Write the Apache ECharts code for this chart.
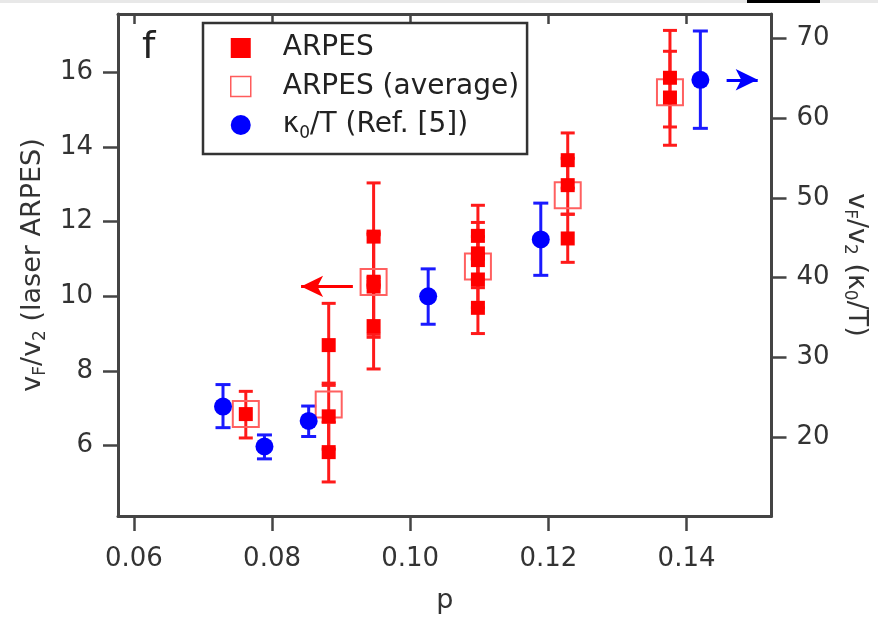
<!DOCTYPE html>
<html><head><meta charset="utf-8">
<script src="https://cdn.jsdelivr.net/npm/echarts@6/dist/echarts.min.js"></script>
<style>html,body{margin:0;padding:0;background:#fff}#c{width:878px;height:619px}</style>
</head><body><div id="c"></div>
<script>
// ---- tick labels ----
const xTicks = [0.06, 0.08, 0.10, 0.12, 0.14];
const yLeftTicks = [6, 8, 10, 12, 14, 16];
const yRightTicks = [20, 30, 40, 50, 60, 70];

// ---- ARPES (individual points, left axis) ----
const arpesP  = [0.0762, 0.0882, 0.0882, 0.0882, 0.0947, 0.0947, 0.0947, 0.0947, 0.1098, 0.1098, 0.1098, 0.1098, 0.1098, 0.1228, 0.1228, 0.1228, 0.1376, 0.1376];
const arpesV  = [6.84, 8.69, 6.78, 5.82, 11.60, 10.39, 10.26, 9.20, 11.62, 11.15, 10.97, 10.45, 9.69, 13.65, 12.98, 11.55, 15.86, 15.33];
const arpesLo = [6.20, 7.67, 5.90, 5.02, 10.50, 8.98, 8.90, 8.05, 11.00, 10.23, 10.45, 9.69, 9.00, 12.90, 12.20, 10.91, 14.54, 14.05];
const arpesHi = [7.45, 9.81, 7.61, 6.62, 13.04, 11.70, 11.65, 10.30, 12.44, 11.98, 11.60, 11.15, 10.45, 14.38, 13.70, 12.20, 17.13, 16.57];

// ---- ARPES (average, left axis) ----
const avgP = [0.0762, 0.0882, 0.0947, 0.1098, 0.1228, 0.1376];
const avgV = [6.84, 7.10, 10.38, 10.80, 12.71, 15.47];

// ---- kappa0/T (Ref. [5], right axis) ----
const kP  = [0.0729, 0.0789, 0.0853, 0.1026, 0.1189, 0.1420];
const kV  = [23.84, 18.84, 22.04, 37.66, 44.79, 64.79];
const kLo = [21.20, 17.29, 20.09, 34.16, 40.29, 58.71];
const kHi = [26.60, 20.29, 23.91, 41.10, 49.34, 70.91];

// ---- arrows (data coordinates) ----
const redArrow  = [[0.0917, 10.265], [0.0842, 10.265]];
const blueArrow = [[0.1458, 64.8], [0.1503, 64.8]];

const FONT = 'DejaVu Sans';
const AX = '#444';
const TXT = '#333';
const RED = '#ff0000';
const BLUE = '#0000ff';

const nameRich = {
  m: {fontSize: 27, lineHeight: 32, verticalAlign: 'middle', fontFamily: FONT, color: TXT},
  s: {fontSize: 17, lineHeight: 12, verticalAlign: 'bottom', fontFamily: FONT, color: TXT}
};

function errBars(xs, lo, hi, color, yAxisIndex, cap) {
  return {
    type: 'custom', yAxisIndex: yAxisIndex, xAxisIndex: 0, z: 2, silent: true,
    data: xs.map((x, i) => [x, lo[i], hi[i]]),
    encode: {x: 0, y: [1, 2]},
    renderItem: function (params, api) {
      const x = api.value(0);
      const a = api.coord([x, api.value(1)]);
      const b = api.coord([x, api.value(2)]);
      const h = cap / 2;
      const style = {stroke: color, lineWidth: 3};
      return {type: 'group', children: [
        {type: 'line', shape: {x1: a[0], y1: a[1], x2: b[0], y2: b[1]}, style: style},
        {type: 'line', shape: {x1: a[0] - h, y1: a[1], x2: a[0] + h, y2: a[1]}, style: style},
        {type: 'line', shape: {x1: b[0] - h, y1: b[1], x2: b[0] + h, y2: b[1]}, style: style}
      ]};
    }
  };
}

function xAxisCommon() {
  return {
    type: 'value', min: 0.0577, max: 0.1523,
    axisLine: {show: true, onZero: false, lineStyle: {color: AX, width: 3}},
    splitLine: {show: false}
  };
}

const chart = echarts.init(document.getElementById('c'));
chart.setOption({
  animation: false,
  backgroundColor: '#fff',
  grid: {left: 118, right: 100, top: 14, bottom: 101},
  graphic: [
    {type: 'rect', shape: {x: 0, y: 0, width: 878, height: 3}, style: {fill: '#e8e8e8'}, z: 100},
    {type: 'rect', shape: {x: 747, y: 0, width: 73, height: 3}, style: {fill: '#000'}, z: 101},
    {type: 'text', left: 142, top: 29, style: {text: 'f', fontSize: 38, fontFamily: FONT, fill: '#222'}, z: 100}
  ],
  legend: {
    orient: 'vertical', left: 203, top: 23,
    padding: [11, 8, 12, 27], itemGap: 10.5, itemWidth: 20, itemHeight: 20,
    borderColor: '#333', borderWidth: 2.5, backgroundColor: '#fff',
    selectedMode: false,
    textStyle: {
      fontSize: 28, fontFamily: FONT, color: '#222', padding: [0, 0, 0, 27],
      rich: {
        m: {fontSize: 28, lineHeight: 34, verticalAlign: 'middle', fontFamily: FONT, color: '#222'},
        s: {fontSize: 17, lineHeight: 14, verticalAlign: 'bottom', fontFamily: FONT, color: '#222'}
      }
    },
    formatter: function (n) {
      if (n === 'kappa') return '{m|κ}{s|0}{m|/T (Ref. [5])}';
      return '{m|' + n + '}';
    },
    data: [
      {name: 'ARPES', icon: 'rect', itemStyle: {color: RED, opacity: 1}},
      {name: 'ARPES (average)', icon: 'rect', itemStyle: {color: '#fff', borderColor: '#ff5c5c', borderWidth: 1.5, opacity: 1}},
      {name: 'kappa', icon: 'circle', itemStyle: {color: BLUE, opacity: 1}}
    ]
  },
  xAxis: [
    Object.assign(xAxisCommon(), {
      position: 'bottom',
      axisTick: {show: true, customValues: xTicks, length: 15, lineStyle: {color: AX, width: 2.5}},
      axisLabel: {customValues: xTicks, formatter: v => v.toFixed(2), margin: 30, fontSize: 26, color: TXT, fontFamily: FONT},
      name: 'p', nameLocation: 'middle', nameGap: 71,
      nameTextStyle: {fontSize: 27, fontFamily: FONT, color: TXT}
    }),
    Object.assign(xAxisCommon(), {
      position: 'top',
      axisTick: {show: true, inside: true, customValues: xTicks, length: 10, lineStyle: {color: AX, width: 2.5}},
      axisLabel: {show: false}
    })
  ],
  yAxis: [
    {
      type: 'value', position: 'left', min: 4.107, max: 17.57,
      axisLine: {show: true, onZero: false, lineStyle: {color: AX, width: 3}},
      axisTick: {show: true, customValues: yLeftTicks, length: 15, lineStyle: {color: AX, width: 2.5}},
      axisLabel: {customValues: yLeftTicks, margin: 25, fontSize: 26, color: TXT, fontFamily: FONT},
      splitLine: {show: false},
      name: '{m|v}{s|F}{m|/v}{s|2}{m| (laser ARPES)}', nameLocation: 'middle', nameGap: 68,
      nameTextStyle: {fontSize: 27, fontFamily: FONT, color: TXT, rich: nameRich}
    },
    {
      type: 'value', position: 'right', min: 10.13, max: 73.04,
      axisLine: {show: true, onZero: false, lineStyle: {color: AX, width: 3}},
      axisTick: {show: true, customValues: yRightTicks, length: 15, lineStyle: {color: AX, width: 2.5}},
      axisLabel: {customValues: yRightTicks, margin: 25, fontSize: 26, color: TXT, fontFamily: FONT},
      splitLine: {show: false},
      name: '{m|v}{s|F}{m|/v}{s|2}{m| (κ}{s|0}{m|/T)}', nameLocation: 'middle', nameGap: 68, nameRotate: -90,
      nameTextStyle: {fontSize: 27, fontFamily: FONT, color: TXT, rich: nameRich}
    }
  ],
  series: [
    errBars(arpesP, arpesLo, arpesHi, '#ff1a1a', 0, 14),
    errBars(kP, kLo, kHi, '#1a1aff', 1, 15),
    {
      name: 'ARPES (average)', type: 'scatter', yAxisIndex: 0, z: 3,
      symbol: 'rect', symbolSize: 26,
      itemStyle: {color: 'rgba(255,255,255,0)', borderColor: '#ff6060', borderWidth: 2, opacity: 1},
      data: avgP.map((p, i) => [p, avgV[i]])
    },
    {
      name: 'ARPES', type: 'scatter', yAxisIndex: 0, z: 4,
      symbol: 'rect', symbolSize: 14, itemStyle: {color: RED, opacity: 1},
      data: arpesP.map((p, i) => [p, arpesV[i]]),
      markLine: {
        silent: true, symbol: ['none', 'arrow'], symbolSize: [16, 22],
        lineStyle: {color: RED, width: 3, type: 'solid'}, label: {show: false},
        data: [[{coord: redArrow[0]}, {coord: redArrow[1]}]]
      }
    },
    {
      name: 'kappa', type: 'scatter', yAxisIndex: 1, z: 4,
      symbol: 'circle', symbolSize: 18, itemStyle: {color: BLUE, opacity: 1},
      data: kP.map((p, i) => [p, kV[i]]),
      markLine: {
        silent: true, symbol: ['none', 'arrow'], symbolSize: [16, 22],
        lineStyle: {color: BLUE, width: 3, type: 'solid'}, label: {show: false},
        data: [[{coord: blueArrow[0]}, {coord: blueArrow[1]}]]
      }
    }
  ]
});
</script>
</body></html>
